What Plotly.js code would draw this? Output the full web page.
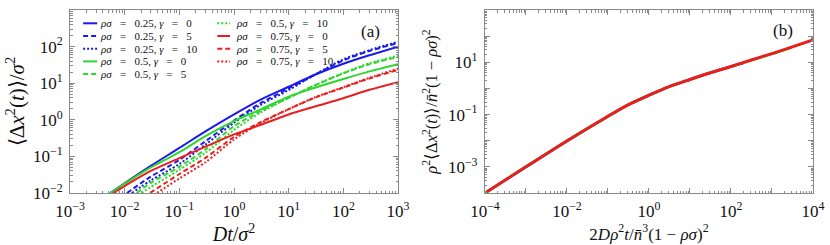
<!DOCTYPE html>
<html><head><meta charset="utf-8">
<script src="https://cdn.plot.ly/plotly-3.0.1.min.js"></script>
<style>html,body{margin:0;padding:0;background:#fff}#chart{width:830px;height:245px}</style>
</head><body><div id="chart"></div>
<script>
// ---------- data ----------
const rhoSigma = ['0.25','0.25','0.25','0.5','0.5','0.5','0.75','0.75','0.75'];
const gammas   = ['0','5','10','0','5','10','0','5','10'];

// panel (a): Dt/sigma^2  vs  <dx^2(t)>/sigma^2
const t_25_0  = [0.0054, 0.01, 0.03, 0.1, 0.3, 1, 3, 10, 30, 100, 300, 1000];
const y_25_0  = [0.01, 0.0185, 0.055, 0.17, 0.48, 1.4, 3.5, 8.0, 17, 34, 58, 100];
const t_25_5  = [0.011, 0.03, 0.1, 0.3, 1, 3, 10, 30, 100, 300, 1000];
const y_25_5  = [0.01, 0.028, 0.08, 0.26, 0.95, 2.8, 7.2, 17, 42, 76, 125];
const t_25_10 = [0.0135, 0.03, 0.1, 0.3, 1, 3, 10, 30, 100, 300, 1000];
const y_25_10 = [0.01, 0.022, 0.062, 0.21, 0.83, 2.5, 6.5, 17, 45, 80, 135];
const t_50_0  = [0.0054, 0.01, 0.03, 0.1, 0.3, 1, 3, 10, 30, 100, 300, 1000];
const y_50_0  = [0.01, 0.018, 0.05, 0.13, 0.36, 0.92, 1.9, 4.3, 7.5, 13, 21, 33];
const t_50_5  = [0.0166, 0.03, 0.1, 0.3, 1, 3, 10, 30, 100, 300, 1000];
const y_50_5  = [0.01, 0.019, 0.052, 0.155, 0.67, 1.7, 4.0, 8.7, 18.6, 33, 52];
const t_50_10 = [0.0204, 0.03, 0.1, 0.3, 1, 3, 10, 30, 100, 300, 1000];
const y_50_10 = [0.01, 0.0145, 0.043, 0.125, 0.53, 1.55, 4.0, 8.8, 19, 35, 56];
const t_75_0  = [0.0062, 0.01, 0.03, 0.1, 0.3, 1, 3, 10, 30, 100, 300, 1000];
const y_75_0  = [0.01, 0.0155, 0.04, 0.09, 0.185, 0.40, 0.72, 1.4, 2.3, 3.9, 6.6, 10.7];
const t_75_5  = [0.029, 0.1, 0.3, 1, 3, 10, 30, 100, 300, 1000];
const y_75_5  = [0.01, 0.033, 0.091, 0.34, 0.85, 1.95, 4.0, 7.6, 13.5, 23];
const t_75_10 = [0.039, 0.1, 0.3, 1, 3, 10, 30, 100, 300, 1000];
const y_75_10 = [0.01, 0.025, 0.069, 0.29, 0.80, 1.95, 4.1, 7.8, 14, 25];

// panel (b): scaled time vs scaled MSD (collapse)
const s_25 = [1e-4, 1e-3, 1e-2, 0.1, 0.3, 1, 3, 10, 30, 100, 200];
const m_25 = [1e-4, 1e-3, 0.0098, 0.086, 0.23, 0.55, 1.15, 2.2, 3.9, 6.9, 9.4];
const s_50 = [1e-4, 1e-3, 1e-2, 0.1, 0.3, 1, 3, 10, 30, 100, 300, 1000, 3000];
const m_50 = [1e-4, 1e-3, 0.0098, 0.086, 0.23, 0.55, 1.15, 2.2, 3.9, 6.9, 11.8, 21, 37];
const s_75 = [1.1e-4, 1e-3, 1e-2, 0.1, 0.3, 1, 3, 10, 30, 100, 300, 1000, 3000, 1e4];
const m_75 = [1.1e-4, 1e-3, 0.0098, 0.086, 0.23, 0.55, 1.15, 2.2, 3.9, 6.9, 12, 21.5, 38, 72];

// tick exponents
const axA_x = [-3,-2,-1,0,1,2,3];
const axA_y = [-2,-1,0,1,2,3];
const axB_x = [-4,-3,-2,-1,0,1,2,3,4];
const axB_xLabeled = [-4,-2,0,2,4];
const axB_y = [-4,-3,-2,-1,0,1,2,3];
const axB_yLabeled = [-3,-1,1,3];

// ---------- styling ----------
const colors = ['rgb(25,25,235)','rgb(25,25,235)','rgb(25,25,235)',
                'rgb(45,215,45)','rgb(45,215,45)','rgb(45,215,45)',
                'rgb(235,30,30)','rgb(235,30,30)','rgb(235,30,30)'];
const dashes = ['solid','5px,3px','2px,2px','solid','5px,3px','2px,2px','solid','5px,3px','2px,2px'];
const seriesT = [t_25_0,t_25_5,t_25_10,t_50_0,t_50_5,t_50_10,t_75_0,t_75_5,t_75_10];
const seriesY = [y_25_0,y_25_5,y_25_10,y_50_0,y_50_5,y_50_10,y_75_0,y_75_5,y_75_10];

const FONT = 'Liberation Serif, Times New Roman, serif';
const sup = e => '10<sup>' + (e < 0 ? '\u2212' + (-e) : e) + '</sup>';
const tv = arr => arr.map(e => Math.pow(10, e));
const tt = (arr, lab) => arr.map(e => (lab ? (lab.indexOf(e) >= 0 ? sup(e) : ' ') : sup(e)));

const traces = [];
for (let i = 0; i < 9; i++) {
  traces.push({x: seriesT[i], y: seriesY[i], xaxis: 'x', yaxis: 'y', type: 'scatter', mode: 'lines',
    line: {color: colors[i], dash: dashes[i], width: 2, shape: 'spline', smoothing: 0.8},
    showlegend: false, hoverinfo: 'skip'});
}
const collapseS = [s_25, s_50, s_75];
const collapseM = [m_25, m_50, m_75];
const collapseC = [colors[0], colors[3], colors[6]];
for (let k = 0; k < 3; k++) {
  traces.push({x: collapseS[k], y: collapseM[k], xaxis: 'x2', yaxis: 'y2', type: 'scatter', mode: 'lines',
    line: {color: collapseC[k], width: k === 2 ? 3 : 2.6, shape: 'spline', smoothing: 0.8},
    showlegend: false, hoverinfo: 'skip'});
}

const axisCommon = {
  type: 'log', showgrid: false, zeroline: false, showline: true, linecolor: '#8a8a8a', linewidth: 1,
  mirror: 'ticks', ticks: 'inside', ticklen: 5, tickcolor: '#8a8a8a', tickwidth: 1,
  tickmode: 'array', tickfont: {family: FONT, size: 17, color: '#111'},
  minor: {ticks: 'inside', ticklen: 2.5, tickcolor: '#8a8a8a', dtick: 'D1', showgrid: false},
  ticklabelstandoff: 3
};

// manual legend (two columns) built from the series arrays
const PLOT_TOP = 10, PLOT_BOT = 193, PLOT_H = 183;
const LEG_FONT = 11, LEG_STEP = 12.7, LEG_ROW0 = 23.3;
const SP = '\u2002 ';
const toDom = py => (PLOT_BOT - py) / PLOT_H;
const shapes = [], annotations = [];
for (let i = 0; i < 9; i++) {
  const col = i < 5 ? 0 : 1;
  const row = i < 5 ? i : i - 5;
  const x0 = col === 0 ? 0.04 : 0.449, x1 = col === 0 ? 0.083 : 0.488;
  const py = LEG_ROW0 + row * LEG_STEP;
  shapes.push({type: 'line', xref: 'x domain', yref: 'y domain', x0: x0, x1: x1, y0: toDom(py), y1: toDom(py),
    line: {color: colors[i], width: 2, dash: dashes[i]}});
  annotations.push({xref: 'x domain', yref: 'y domain', x: col === 0 ? 0.088 : 0.503, y: toDom(py),
    xanchor: 'left', yanchor: 'middle', showarrow: false, borderpad: 0,
    font: {family: FONT, size: LEG_FONT, color: '#111'},
    text: '<i>ρσ</i>' + SP + '=' + SP + rhoSigma[i] + ', <i>γ</i>' + SP + '=' + SP + gammas[i]});
}
annotations.push({xref: 'x domain', yref: 'y domain', x: 0.915, y: 0.88, xanchor: 'center', yanchor: 'middle',
  showarrow: false, text: '(a)', font: {family: FONT, size: 17, color: '#111'}});
annotations.push({xref: 'x2 domain', yref: 'y2 domain', x: 0.909, y: 0.89, xanchor: 'center', yanchor: 'middle',
  showarrow: false, text: '(b)', font: {family: FONT, size: 17, color: '#111'}});

const layout = {
  width: 830, height: 245, margin: {l: 70, r: 17, t: PLOT_TOP, b: 245 - PLOT_BOT},
  paper_bgcolor: '#fff', plot_bgcolor: '#fff', showlegend: false,
  xaxis: Object.assign({}, axisCommon, {domain: [0, 0.4415], range: [-3, 3],
    tickvals: tv(axA_x), ticktext: tt(axA_x), anchor: 'y',
    title: {text: '<i>Dt</i>/<i>σ</i><sup>2</sup>', font: {family: FONT, size: 20, color: '#111'}, standoff: 4}}),
  yaxis: Object.assign({}, axisCommon, {domain: [0, 1], range: [-2, 3],
    tickvals: tv(axA_y), ticktext: tt(axA_y), anchor: 'x',
    title: {text: '⟨Δ<i>x</i><sup>2</sup>(<i>t</i>)⟩/<i>σ</i><sup>2</sup>', font: {family: FONT, size: 21, color: '#111'}, standoff: 2}}),
  xaxis2: Object.assign({}, axisCommon, {domain: [0.5585, 1], range: [-4, 4],
    tickvals: tv(axB_x), ticktext: tt(axB_x, axB_xLabeled), anchor: 'y2',
    title: {text: '2<i>Dρ</i><sup>2</sup><i>t</i>/<i>n̄</i><sup>3</sup>(1 − <i>ρσ</i>)<sup>2</sup>', font: {family: FONT, size: 17, color: '#111'}, standoff: 5}}),
  yaxis2: Object.assign({}, axisCommon, {domain: [0, 1], range: [-4, 3],
    tickvals: tv(axB_y), ticktext: tt(axB_y, axB_yLabeled), anchor: 'x2',
    title: {text: '<i>ρ</i><sup>2</sup>⟨Δ<i>x</i><sup>2</sup>(<i>t</i>)⟩/<i>n̄</i><sup>2</sup>(1 − <i>ρσ</i>)<sup>2</sup>', font: {family: FONT, size: 16.5, color: '#111'}, standoff: 6}}),
  shapes: shapes, annotations: annotations
};

Plotly.newPlot('chart', traces, layout, {staticPlot: true, displayModeBar: false});
</script></body></html>
